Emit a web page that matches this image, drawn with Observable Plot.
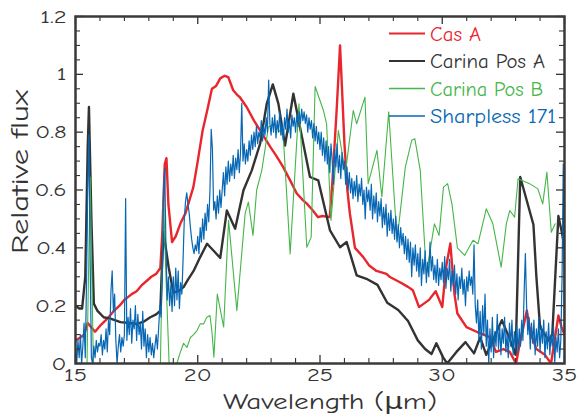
<!DOCTYPE html>
<html><head><meta charset="utf-8">
<script src="https://cdn.jsdelivr.net/npm/d3@7"></script>
<script src="https://cdn.jsdelivr.net/npm/@observablehq/plot@0.6"></script>
<style>
html,body{margin:0;padding:0;background:#fff;}
#chart{width:578px;height:417px;}
</style></head><body><div id="chart"></div>
<script>
// ---------- DATA ----------
const seriesNames = ["Cas A", "Carina Pos A", "Carina Pos B", "Sharpless 171"];
const seriesColors = ["#e8262d", "#333333", "#45b649", "#0767b4"];

// [wavelength µm, relative flux]
const casA = [
 [15.0,0.08],[15.2,0.09],[15.35,0.1],[15.5,0.14],[15.6,0.13],[15.8,0.11],[16.0,0.13],[16.3,0.155],[16.55,0.18],[16.8,0.2],
 [17.0,0.22],[17.3,0.24],[17.5,0.25],[17.7,0.27],[17.93,0.287],[18.1,0.3],[18.3,0.31],[18.47,0.33],[18.55,0.45],[18.65,0.69],
 [18.72,0.71],[18.8,0.55],[18.95,0.42],[19.1,0.44],[19.29,0.484],[19.5,0.52],[19.82,0.61],[20.0,0.7],[20.2,0.806],[20.4,0.88],
 [20.58,0.95],[20.75,0.96],[20.92,0.986],[21.1,0.995],[21.25,0.99],[21.45,0.945],[21.6,0.93],[21.73,0.92],[22.0,0.887],[22.3,0.84],
 [22.55,0.806],[22.96,0.75],[23.2,0.72],[23.49,0.68],[23.8,0.63],[24.05,0.588],[24.3,0.565],[24.46,0.553],[24.7,0.53],[24.92,0.506],
 [25.1,0.51],[25.4,0.506],[25.5,0.62],[25.68,0.875],[25.82,1.1],[25.9,0.95],[26.0,0.76],[26.12,0.6],[26.22,0.52],[26.43,0.40],
 [26.77,0.368],[27.0,0.34],[27.31,0.32],[27.72,0.31],[27.86,0.299],[28.27,0.281],[28.6,0.265],[28.8,0.253],[29.05,0.195],[29.46,0.22],
 [29.73,0.25],[30.0,0.195],[30.15,0.33],[30.33,0.415],[30.5,0.24],[30.62,0.173],[30.99,0.126],[31.45,0.108],[31.94,0.091],[32.2,0.04],
 [32.5,0.05],[32.76,0.04],[33.02,0.0],[33.15,0.06],[33.46,0.183],[33.6,0.11],[33.85,0.05],[34.2,0.03],[34.45,0.0],[34.75,0.166],
 [34.88,0.126],[35.0,0.1]
];

const carinaPosA = [
 [15.0,0.2],[15.15,0.19],[15.27,0.19],[15.4,0.3],[15.5,0.75],[15.55,0.887],[15.65,0.5],[15.75,0.207],[15.89,0.183],[16.15,0.16],
 [16.43,0.155],[16.84,0.143],[17.2,0.14],[17.5,0.137],[17.8,0.145],[18.06,0.16],[18.3,0.17],[18.47,0.183],[18.52,0.3],[18.6,0.454],
 [18.81,0.333],[19.0,0.245],[19.2,0.25],[19.42,0.264],[19.6,0.29],[19.83,0.32],[20.1,0.368],[20.38,0.414],[20.65,0.39],[20.92,0.365],
 [21.19,0.529],[21.53,0.466],[21.87,0.599],[22.21,0.668],[22.55,0.76],[22.82,0.898],[23.07,0.965],[23.3,0.898],[23.57,0.754],[23.91,0.933],
 [24.18,0.818],[24.59,0.645],[24.93,0.633],[25.41,0.46],[25.82,0.402],[26.09,0.42],[26.5,0.305],[26.9,0.293],[27.35,0.272],[27.75,0.21],
 [28.2,0.185],[28.6,0.147],[29.0,0.08],[29.3,0.05],[29.56,0.033],[29.76,0.07],[30.03,0.022],[30.2,0.0],[30.58,0.04],[30.95,0.074],
 [31.3,0.035],[31.55,0.09],[31.8,0.03],[32.17,0.1],[32.44,0.15],[32.78,0.08],[33.0,0.03],[33.19,0.645],[33.73,0.48],[33.85,0.3],
 [34.0,0.126],[34.35,0.08],[34.5,0.1],[34.75,0.51],[34.9,0.45],[35.0,0.4]
];

const carinaPosB = [
 [15.0,-0.1],[15.45,-0.1],[15.6,0.645],[15.75,-0.1],[18.45,-0.1],[18.6,0.576],[18.7,0.3],[18.85,-0.05],[19.15,0.0],[19.25,0.03],
 [19.42,0.07],[19.56,0.056],[19.7,0.09],[19.83,0.1],[19.97,0.114],[20.1,0.137],[20.24,0.137],[20.37,0.16],[20.5,0.166],[20.58,0.11],
 [20.66,0.022],[20.8,0.24],[21.06,0.126],[21.26,0.495],[21.6,0.183],[21.94,0.52],[22.07,0.558],[22.26,0.443],[22.41,0.6],[22.62,0.668],
 [22.89,0.818],[23.16,0.829],[23.5,0.783],[23.78,0.379],[24.14,0.898],[24.46,0.402],[24.64,0.437],[24.8,0.958],[25.14,0.875],[25.27,0.829],
 [25.45,0.495],[25.75,0.806],[26.04,0.66],[26.36,0.875],[26.5,0.829],[26.84,0.921],[26.97,0.622],[27.33,0.737],[27.53,0.576],[27.81,0.87],
 [28.15,0.426],[28.49,0.679],[28.75,0.772],[28.88,0.777],[29.1,0.668],[29.35,0.31],[29.68,0.483],[29.87,0.443],[30.05,0.61],[30.22,0.622],
 [30.4,0.55],[30.62,0.4],[30.92,0.374],[31.26,0.426],[31.46,0.414],[31.8,0.535],[32.07,0.483],[32.41,0.333],[32.62,0.483],[32.76,0.529],
 [32.96,0.506],[33.1,0.639],[33.57,0.622],[33.91,0.604],[34.11,0.552],[34.28,0.662],[34.46,0.454],[34.62,0.483]
];

// Sharpless 171: flux sampled on a regular wavelength grid
const sharplessStart = 15.0;
const sharplessStep = 0.05;
const sharplessFlux = [
 0.05,0.0,0.08,0.02,0.1,0.0,0.06,0.14,0.02,0.28,0.6,0.79,0.35,0.02,0.0,0.06,0.02,0.08,0.04,0.07,
 0.06,0.1,0.03,0.08,0.05,0.12,0.04,0.15,0.1,0.25,0.32,0.18,0.24,0.08,0.0,0.06,0.1,0.04,0.09,0.06,
 0.1,0.57,0.08,0.16,0.1,0.19,0.07,0.15,0.12,0.2,0.08,0.17,0.1,0.14,0.05,0.18,0.06,0.12,0.02,0.1,
 0.04,0.09,0.03,0.07,0.02,0.06,0.1,0.05,0.12,0.2,0.16,0.3,0.6,0.675,0.4,0.22,0.3,0.2,0.27,0.18,
 0.3,0.2,0.33,0.22,0.32,0.19,0.28,0.24,0.36,0.5,0.56,0.59,0.55,0.52,0.47,0.43,0.4,0.38,0.41,0.39,
 0.44,0.38,0.47,0.42,0.5,0.43,0.52,0.46,0.55,0.49,0.6,0.81,0.74,0.53,0.56,0.5,0.58,0.52,0.6,0.54,
 0.6,0.66,0.58,0.68,0.62,0.7,0.63,0.69,0.65,0.72,0.64,0.71,0.67,0.74,0.66,0.73,0.9,0.7,0.76,0.69,
 0.74,0.7,0.77,0.72,0.79,0.74,0.8,0.75,0.82,0.76,0.8,0.78,0.84,0.77,0.82,0.79,0.85,0.8,0.98,0.83,
 0.79,0.85,0.8,0.86,0.78,0.84,0.8,0.87,0.79,0.83,0.77,0.85,0.81,0.88,0.8,0.84,0.78,0.86,0.82,0.85,
 0.8,0.86,0.82,0.87,0.83,0.88,0.84,0.87,0.83,0.86,0.8,0.85,0.81,0.84,0.78,0.83,0.77,0.82,0.76,0.8,
 0.74,0.8,0.72,0.78,0.7,0.77,0.69,0.75,0.66,0.76,0.7,0.62,0.74,0.68,0.76,0.66,0.72,0.64,0.73,0.67,
 0.7,0.62,0.68,0.6,0.66,0.59,0.64,0.57,0.63,0.58,0.65,0.56,0.62,0.58,0.64,0.55,0.6,0.5,0.61,0.56,
 0.6,0.53,0.62,0.5,0.58,0.52,0.59,0.49,0.56,0.51,0.57,0.47,0.54,0.48,0.55,0.44,0.52,0.46,0.53,0.45,
 0.5,0.43,0.51,0.42,0.48,0.4,0.47,0.41,0.45,0.38,0.44,0.36,0.43,0.35,0.42,0.3,0.4,0.34,0.41,0.32,
 0.38,0.3,0.4,0.27,0.36,0.31,0.39,0.28,0.35,0.3,0.42,0.32,0.37,0.29,0.34,0.28,0.36,0.27,0.33,0.29,
 0.35,0.28,0.37,0.26,0.33,0.29,0.36,0.25,0.32,0.27,0.34,0.24,0.31,0.22,0.3,0.26,0.33,0.24,0.29,0.2,
 0.3,0.25,0.32,0.27,0.3,0.24,0.41,0.2,0.14,0.22,0.08,0.18,0.05,0.2,0.1,0.24,0.06,0.15,0.0,0.12,
 0.04,0.16,0.02,0.11,0.06,0.17,0.05,0.13,0.03,0.12,0.07,0.16,0.04,0.1,0.02,0.14,0.06,0.15,0.03,0.11,
 0.05,0.13,0.04,0.12,0.06,0.15,0.08,0.25,0.38,0.2,0.1,0.16,0.05,0.14,0.07,0.15,0.03,0.12,0.06,0.16,
 0.04,0.13,0.07,0.15,0.02,0.11,0.05,0.14,0.03,0.1,0.06,0.13,0.0,0.09,0.04,0.12,0.02,0.08,0.3,0.69,
 0.0
];

// ticks
const xMajor = [15, 20, 25, 30, 35];
const xTickLabels = ["15", "20", "25", "30", "35"];
const xMinor = [16,17,18,19,21,22,23,24,26,27,28,29,31,32,33,34];
const yMajor = [0, 0.2, 0.4, 0.6, 0.8, 1, 1.2];
const yTickLabels = ["0", "0.2", "0.4", "0.6", "0.8", "1", "1.2"];
const yMinor = [0.05,0.1,0.15,0.25,0.3,0.35,0.45,0.5,0.55,0.65,0.7,0.75,0.85,0.9,0.95,1.05,1.1,1.15];

const xLabel = "Wavelength (μm)";
const yLabel = "Relative flux";

// ---------- LAYOUT ----------
const W = 578, H = 417, mL = 75, mR = 14, mT = 16, mB = 54;
const pW = W - mL - mR, pH = H - mT - mB;
const FONT = '"Comic Sans MS","Comic Neue","DejaVu Sans",sans-serif';
const INK = "#333333";
const majLen = 8, minLen = 5;

const sharpless = sharplessFlux.map((v, i) => [sharplessStart + i * sharplessStep, v]);
const seriesData = [casA, carinaPosA, carinaPosB, sharpless];
const seriesWidths = [2.4, 2.4, 1.1, 1.2];

const chart = Plot.plot({
  width: W, height: H,
  marginLeft: mL, marginRight: mR, marginTop: mT, marginBottom: mB,
  style: {fontFamily: FONT, fontSize: "19px", color: INK, background: "#fff"},
  x: {domain: [15, 35]},
  y: {domain: [0, 1.2]},
  marks: [
    ...seriesData.map((data, k) => Plot.line(data, {
      x: d => d[0], y: d => d[1], stroke: seriesColors[k], strokeWidth: seriesWidths[k],
      strokeLinejoin: "round", clip: true
    })),
    // inward ticks, bottom/top
    Plot.tickX(xMajor, {x: d => d, insetTop: pH - majLen, stroke: INK, strokeWidth: 1.3}),
    Plot.tickX(xMinor, {x: d => d, insetTop: pH - minLen, stroke: INK, strokeWidth: 1.1}),
    Plot.tickX(xMajor, {x: d => d, insetBottom: pH - majLen, stroke: INK, strokeWidth: 1.3}),
    Plot.tickX(xMinor, {x: d => d, insetBottom: pH - minLen, stroke: INK, strokeWidth: 1.1}),
    // inward ticks, left/right
    Plot.tickY(yMajor, {y: d => d, insetRight: pW - majLen, stroke: INK, strokeWidth: 1.3}),
    Plot.tickY(yMinor, {y: d => d, insetRight: pW - minLen, stroke: INK, strokeWidth: 1.1}),
    Plot.tickY(yMajor, {y: d => d, insetLeft: pW - majLen, stroke: INK, strokeWidth: 1.3}),
    Plot.tickY(yMinor, {y: d => d, insetLeft: pW - minLen, stroke: INK, strokeWidth: 1.1}),
    Plot.axisX({ticks: xMajor, tickSize: 0, tickPadding: 4, fontSize: 19, fill: INK,
      tickFormat: d => xTickLabels[xMajor.indexOf(d)], label: null}),
    Plot.axisY({ticks: yMajor, tickSize: 0, tickPadding: 9, fontSize: 19, fill: INK,
      tickFormat: d => yTickLabels[yMajor.indexOf(d)], label: null}),
    Plot.frame({stroke: "#3a3a3a", strokeWidth: 2.5})
  ]
});

const svg = d3.select(chart);
svg.append("text")
  .attr("class", "fixed").attr("data-len", 214)
  .attr("x", 330).attr("y", 409)
  .attr("text-anchor", "middle")
  .attr("font-family", FONT).attr("font-size", 23).attr("fill", INK)
  .text(xLabel);
svg.append("text")
  .attr("class", "fixed").attr("data-len", 164)
  .attr("transform", "translate(28,172) rotate(-90)")
  .attr("text-anchor", "middle")
  .attr("font-family", FONT).attr("font-size", 25).attr("fill", INK)
  .text(yLabel);

// legend (inside the frame, top right)
const legendTextLen = [51, 115, 113, 126];
const legend = svg.append("g").attr("class", "legend").attr("text-anchor", "start");
const rowY = [33.5, 61, 88.5, 116];
seriesNames.forEach((name, k) => {
  legend.append("line")
    .attr("x1", 389).attr("x2", 425).attr("y1", rowY[k]).attr("y2", rowY[k])
    .attr("stroke", seriesColors[k]).attr("stroke-width", k < 2 ? 2.2 : 1.6);
  legend.append("text")
    .attr("class", "fixed").attr("data-len", legendTextLen[k])
    .attr("x", 430).attr("y", rowY[k]).attr("dy", "0.36em")
    .attr("text-anchor", "start")
    .attr("font-family", FONT).attr("font-size", 20).attr("fill", seriesColors[k])
    .text(name);
});

document.getElementById("chart").appendChild(chart);

// widen the glyphs to approach the wide handwriting face of the original
svg.selectAll("text").each(function () {
  const fixed = this.getAttribute("data-len");
  const len = this.getComputedTextLength();
  const target = fixed ? +fixed : len * 1.29;
  if (len > 0) {
    this.setAttribute("textLength", target.toFixed(1));
    this.setAttribute("lengthAdjust", "spacingAndGlyphs");
  }
});
</script>
</body></html>
